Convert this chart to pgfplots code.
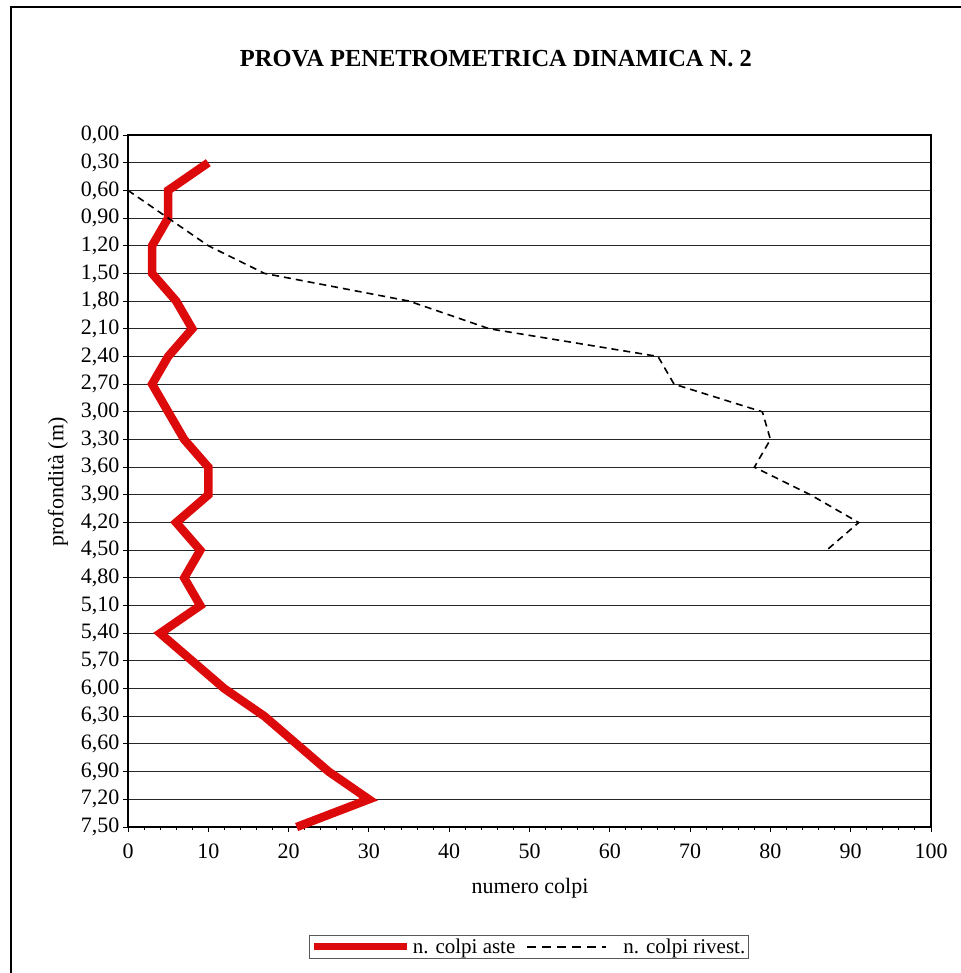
\documentclass[border=0pt]{standalone}
\usepackage{pgfplots}
\pgfplotsset{compat=1.18}
\usepackage{fontspec}
\setmainfont{Liberation Serif}
\definecolor{redline}{RGB}{220,10,10}
\begin{document}
\begin{tikzpicture}[x=1pt,y=1pt]
\useasboundingbox (0,0) rectangle (960,-973);
\draw[line width=1.5pt] (11,-980) -- (11,-7) -- (970,-7);
\node[font=\fontsize{24.5}{26}\selectfont\bfseries] at (496,-59) {PROVA PENETROMETRICA DINAMICA N. 2};
\node[font=\fontsize{22}{24}\selectfont, rotate=90] at (58,-482) {profondità (m)};
\node[font=\fontsize{22}{24}\selectfont] at (530,-888) {numero colpi};
\begin{axis}[
  at={(128pt,-827pt)}, anchor=south west,
  scale only axis, width=803pt, height=692pt,
  xmin=0, xmax=100, ymin=0, ymax=7.5,
  y dir=reverse,
  xtick={0,10,20,30,40,50,60,70,80,90,100},
  minor x tick num=4,
  ytick={0,0.3,0.6,0.9,1.2,1.5,1.8,2.1,2.4,2.7,3.0,3.3,3.6,3.9,4.2,4.5,4.8,5.1,5.4,5.7,6.0,6.3,6.6,6.9,7.2,7.5},
  yticklabel style={/pgf/number format/fixed, /pgf/number format/fixed zerofill, /pgf/number format/precision=2, /pgf/number format/use comma},
  xticklabel style={yshift=-8pt},
  /pgf/number format/assume math mode=true,
  tick label style={font=\fontsize{22}{23}\selectfont},
  tick pos=left, tick align=outside,
  major tick length=5pt, minor tick length=3pt,
  every tick/.style={black, line width=1pt},
  ymajorgrids,
  major grid style={black!85, line width=1pt},
  axis line style={line width=1.5pt},
  legend style={at={(0.4994,-0.19)}, anchor=south, draw=gray!70!black, line width=1pt,
    font=\fontsize{21}{23}\selectfont, legend columns=2,
    /tikz/every even column/.append style={column sep=6pt}, inner sep=1pt,
    legend cell align=left},
  clip=false,
]
\addplot[redline, line width=8.5pt, line join=miter, miter limit=3,
  legend image code/.code={\draw[redline, line width=7pt] (0pt,0pt) -- (93pt,0pt);}]
  coordinates {
(10,0.3)(5,0.6)(5,0.9)(3,1.2)(3,1.5)(6,1.8)(8,2.1)(5,2.4)(3,2.7)(5,3.0)
(7,3.3)(10,3.6)(10,3.9)(6,4.2)(9,4.5)(7,4.8)(9,5.1)(4,5.4)(8,5.7)(12,6.0)
(17,6.3)(21,6.6)(25,6.9)(30,7.2)(21,7.5)
};
\addlegendentry{n. colpi aste}
\addplot[black, line width=1.6pt, dash pattern=on 7pt off 5pt,
  legend image code/.code={\path[draw=none] (0pt,0pt) -- (98pt,0pt);\draw[black, line width=2pt, dash pattern=on 9pt off 6pt] (4pt,0pt) -- (83pt,0pt);}]
  coordinates {
(0,0.6)(5,0.9)(10,1.2)(17,1.5)(35,1.8)(45,2.1)(66,2.4)(68,2.7)(79,3.0)
(80,3.3)(78,3.6)(85,3.9)(91,4.2)(87,4.5)
};
\addlegendentry{n. colpi rivest.}
\end{axis}
\end{tikzpicture}
\end{document}
